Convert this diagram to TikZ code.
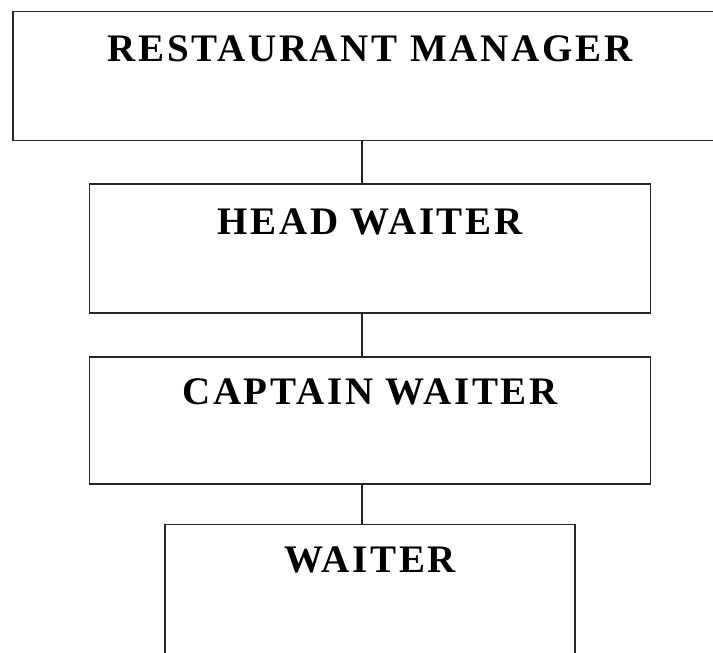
\documentclass[tikz,border=0pt]{standalone}
\usepackage{fontspec}
\newfontfamily\rolefont[LetterSpace=7]{Liberation Serif}
\usetikzlibrary{positioning}

\begin{document}
\begin{tikzpicture}[
    x=1pt, y=-1pt,
    node distance=42pt,
    role/.style={rectangle, draw=black!85, line width=1.6pt, inner xsep=0pt, inner ysep=0pt,
        text height=50pt, text depth=79pt, font=\rolefont\bfseries\fontsize{39}{45}\selectfont},
    link/.style={draw=black!85, line width=1.4pt}
]
\useasboundingbox (0,0) rectangle (713,653);
\clip (0,0) rectangle (713,653);

% Hierarchy boxes
\node[role, minimum width=714pt] (mgr) at (370,76) {RESTAURANT MANAGER};
\node[role, minimum width=561pt, below=of mgr] (head) {HEAD WAITER};
\node[role, minimum width=561pt, text height=48pt, text depth=79pt, below=42pt of head] (capt) {CAPTAIN WAITER};
\node[role, minimum width=410pt, text height=48pt, text depth=95pt, below=39pt of capt] (waiter) {WAITER};

% Connectors
\coordinate (spine) at (362,0);
\draw[link] (mgr.south -| spine) -- (head.north -| spine);
\draw[link] (head.south -| spine) -- (capt.north -| spine);
\draw[link] (capt.south -| spine) -- (waiter.north -| spine);
\end{tikzpicture}
\end{document}
